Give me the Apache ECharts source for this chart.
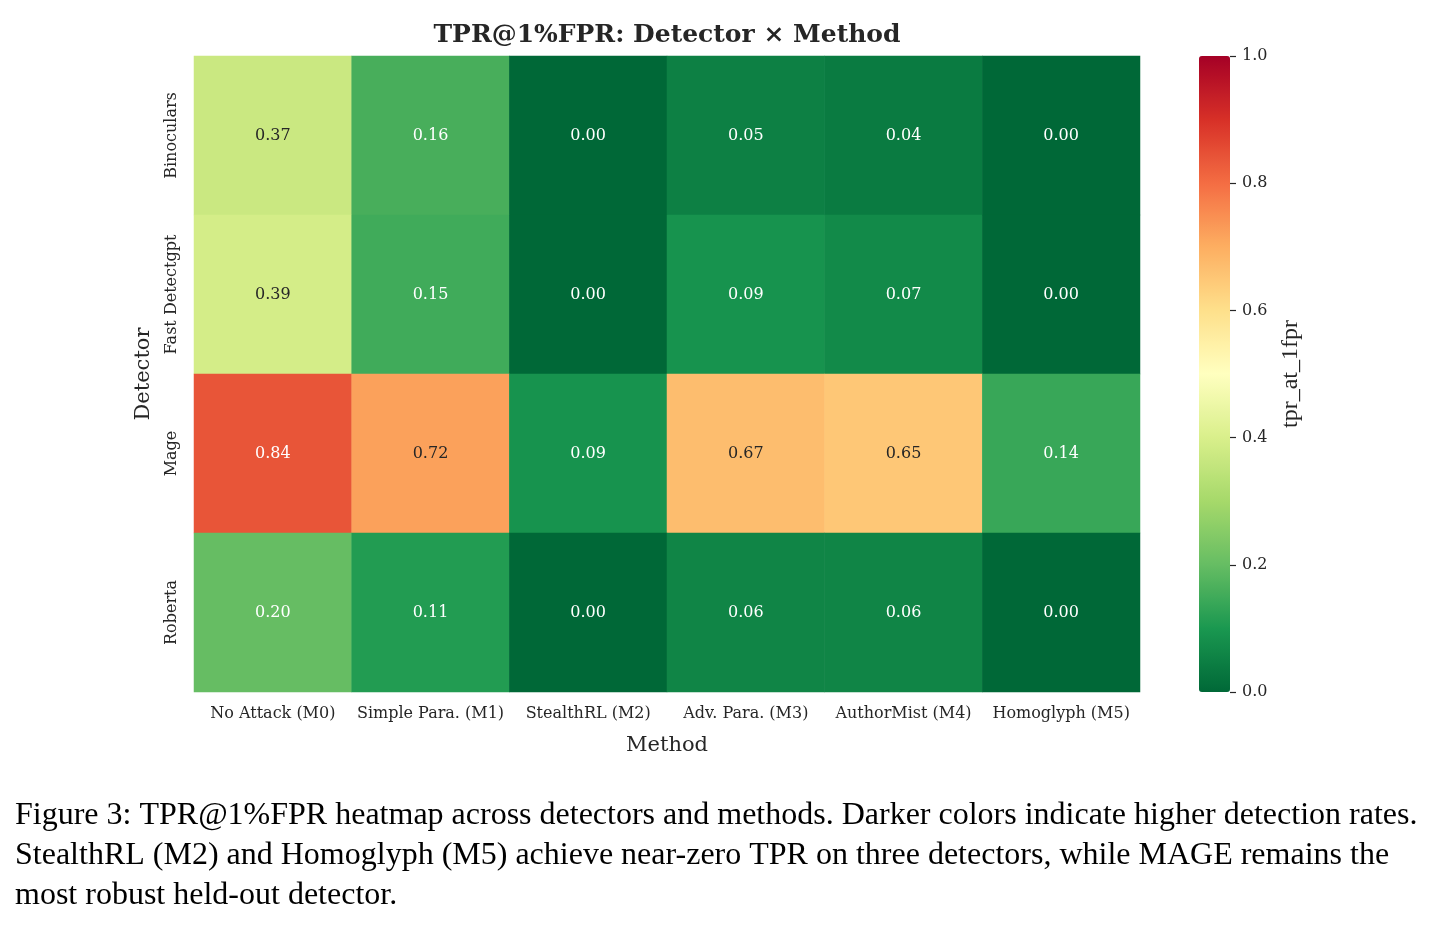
<!DOCTYPE html>
<html><head><meta charset="utf-8">
<script src="https://cdn.jsdelivr.net/npm/echarts@6/dist/echarts.min.js"></script>
<style>html,body{margin:0;padding:0;background:#fff}#c{width:1440px;height:930px}</style>
</head><body><div id="c"></div>
<script>
const methods = ['No Attack (M0)', 'Simple Para. (M1)', 'StealthRL (M2)', 'Adv. Para. (M3)', 'AuthorMist (M4)', 'Homoglyph (M5)'];
const detectors = ['Binoculars', 'Fast Detectgpt', 'Mage', 'Roberta'];
const binoculars = [0.37, 0.16, 0.00, 0.05, 0.04, 0.00];
const fastDetectgpt = [0.39, 0.15, 0.00, 0.09, 0.07, 0.00];
const mage = [0.84, 0.72, 0.09, 0.67, 0.65, 0.14];
const roberta = [0.20, 0.11, 0.00, 0.06, 0.06, 0.00];
const colorbarTicks = [0, 0.2, 0.4, 0.6, 0.8, 1.0];
const captionLines = [
  'Figure 3: TPR@1%FPR heatmap across detectors and methods. Darker colors indicate higher detection rates.',
  'StealthRL (M2) and Homoglyph (M5) achieve near-zero TPR on three detectors, while MAGE remains the',
  'most robust held-out detector.'
];
const rows = [binoculars, fastDetectgpt, mage, roberta];
const cmap = ['#006837','#1a9850','#66bd63','#a6d96a','#d9ef8b','#ffffbf','#fee08b','#fdae61','#f46d43','#d73027','#a50026'];
const data = [];
rows.forEach((r, yi) => r.forEach((v, xi) => {
  const dark = v > 0.26 && v < 0.78;
  data.push({value: [xi, yi, v], label: {color: dark ? '#262626' : '#ffffff'}});
}));
const F = 'DejaVu Serif';
const chart = echarts.init(document.getElementById('c'));
chart.setOption({
  animation: false,
  backgroundColor: '#fff',
  title: {text: 'TPR@1%FPR: Detector × Method', left: 662, textAlign: 'center', top: 18,
    textStyle: {fontFamily: F, fontWeight: 'bold', fontSize: 25, color: '#262626'}},
  grid: [
    {left: 194, top: 56, width: 946, height: 636},
    {left: 1199, top: 56, width: 31, height: 636}
  ],
  xAxis: [
    {type: 'category', data: methods, gridIndex: 0, axisLine: {show: false}, axisTick: {show: false},
     axisLabel: {fontFamily: F, fontSize: 16, color: '#262626', margin: 14, interval: 0},
     name: 'Method', nameLocation: 'middle', nameGap: 43, nameTextStyle: {fontFamily: F, fontSize: 21, color: '#262626'}},
    {type: 'value', gridIndex: 1, show: false, min: 0, max: 1}
  ],
  yAxis: [
    {type: 'category', data: detectors, inverse: true, gridIndex: 0, axisLine: {show: false}, axisTick: {show: false},
     axisLabel: {fontFamily: F, fontSize: 16, color: '#262626', rotate: 90, margin: 14, interval: 0},
     name: 'Detector', nameLocation: 'middle', nameGap: 40, nameTextStyle: {fontFamily: F, fontSize: 21, color: '#262626'}},
    {type: 'value', gridIndex: 1, position: 'right', min: 0, max: 1, interval: 0.2,
     axisLine: {show: false, onZero: false}, splitLine: {show: false},
     axisTick: {show: true, length: 6, lineStyle: {color: '#262626', width: 1.2}},
     axisLabel: {fontFamily: F, fontSize: 16, color: '#262626', margin: 12, formatter: v => v.toFixed(1)},
     name: 'tpr_at_1fpr', nameLocation: 'middle', nameGap: 49, nameRotate: 90,
     nameTextStyle: {fontFamily: 'Liberation Serif', fontSize: 24, color: '#262626'}}
  ],
  visualMap: {
    type: 'continuous', min: 0, max: 1, seriesIndex: 0, calculable: false,
    left: 1199, top: 56, itemWidth: 31, itemHeight: 636, padding: 0, text: null, showLabel: false,
    inRange: {color: cmap}, hoverLink: false
  },
  series: [{
    type: 'heatmap', xAxisIndex: 0, yAxisIndex: 0, data: data,
    label: {show: true, fontFamily: F, fontSize: 16, formatter: p => p.value[2].toFixed(2)},
    itemStyle: {borderWidth: 0}
  }],
  graphic: captionLines.map((t, i) => ({
    type: 'text', left: 15, top: 800 + i * 40,
    style: {text: t, fontFamily: 'Liberation Serif', fontSize: 32, fill: '#000'}
  }))
});
</script></body></html>
